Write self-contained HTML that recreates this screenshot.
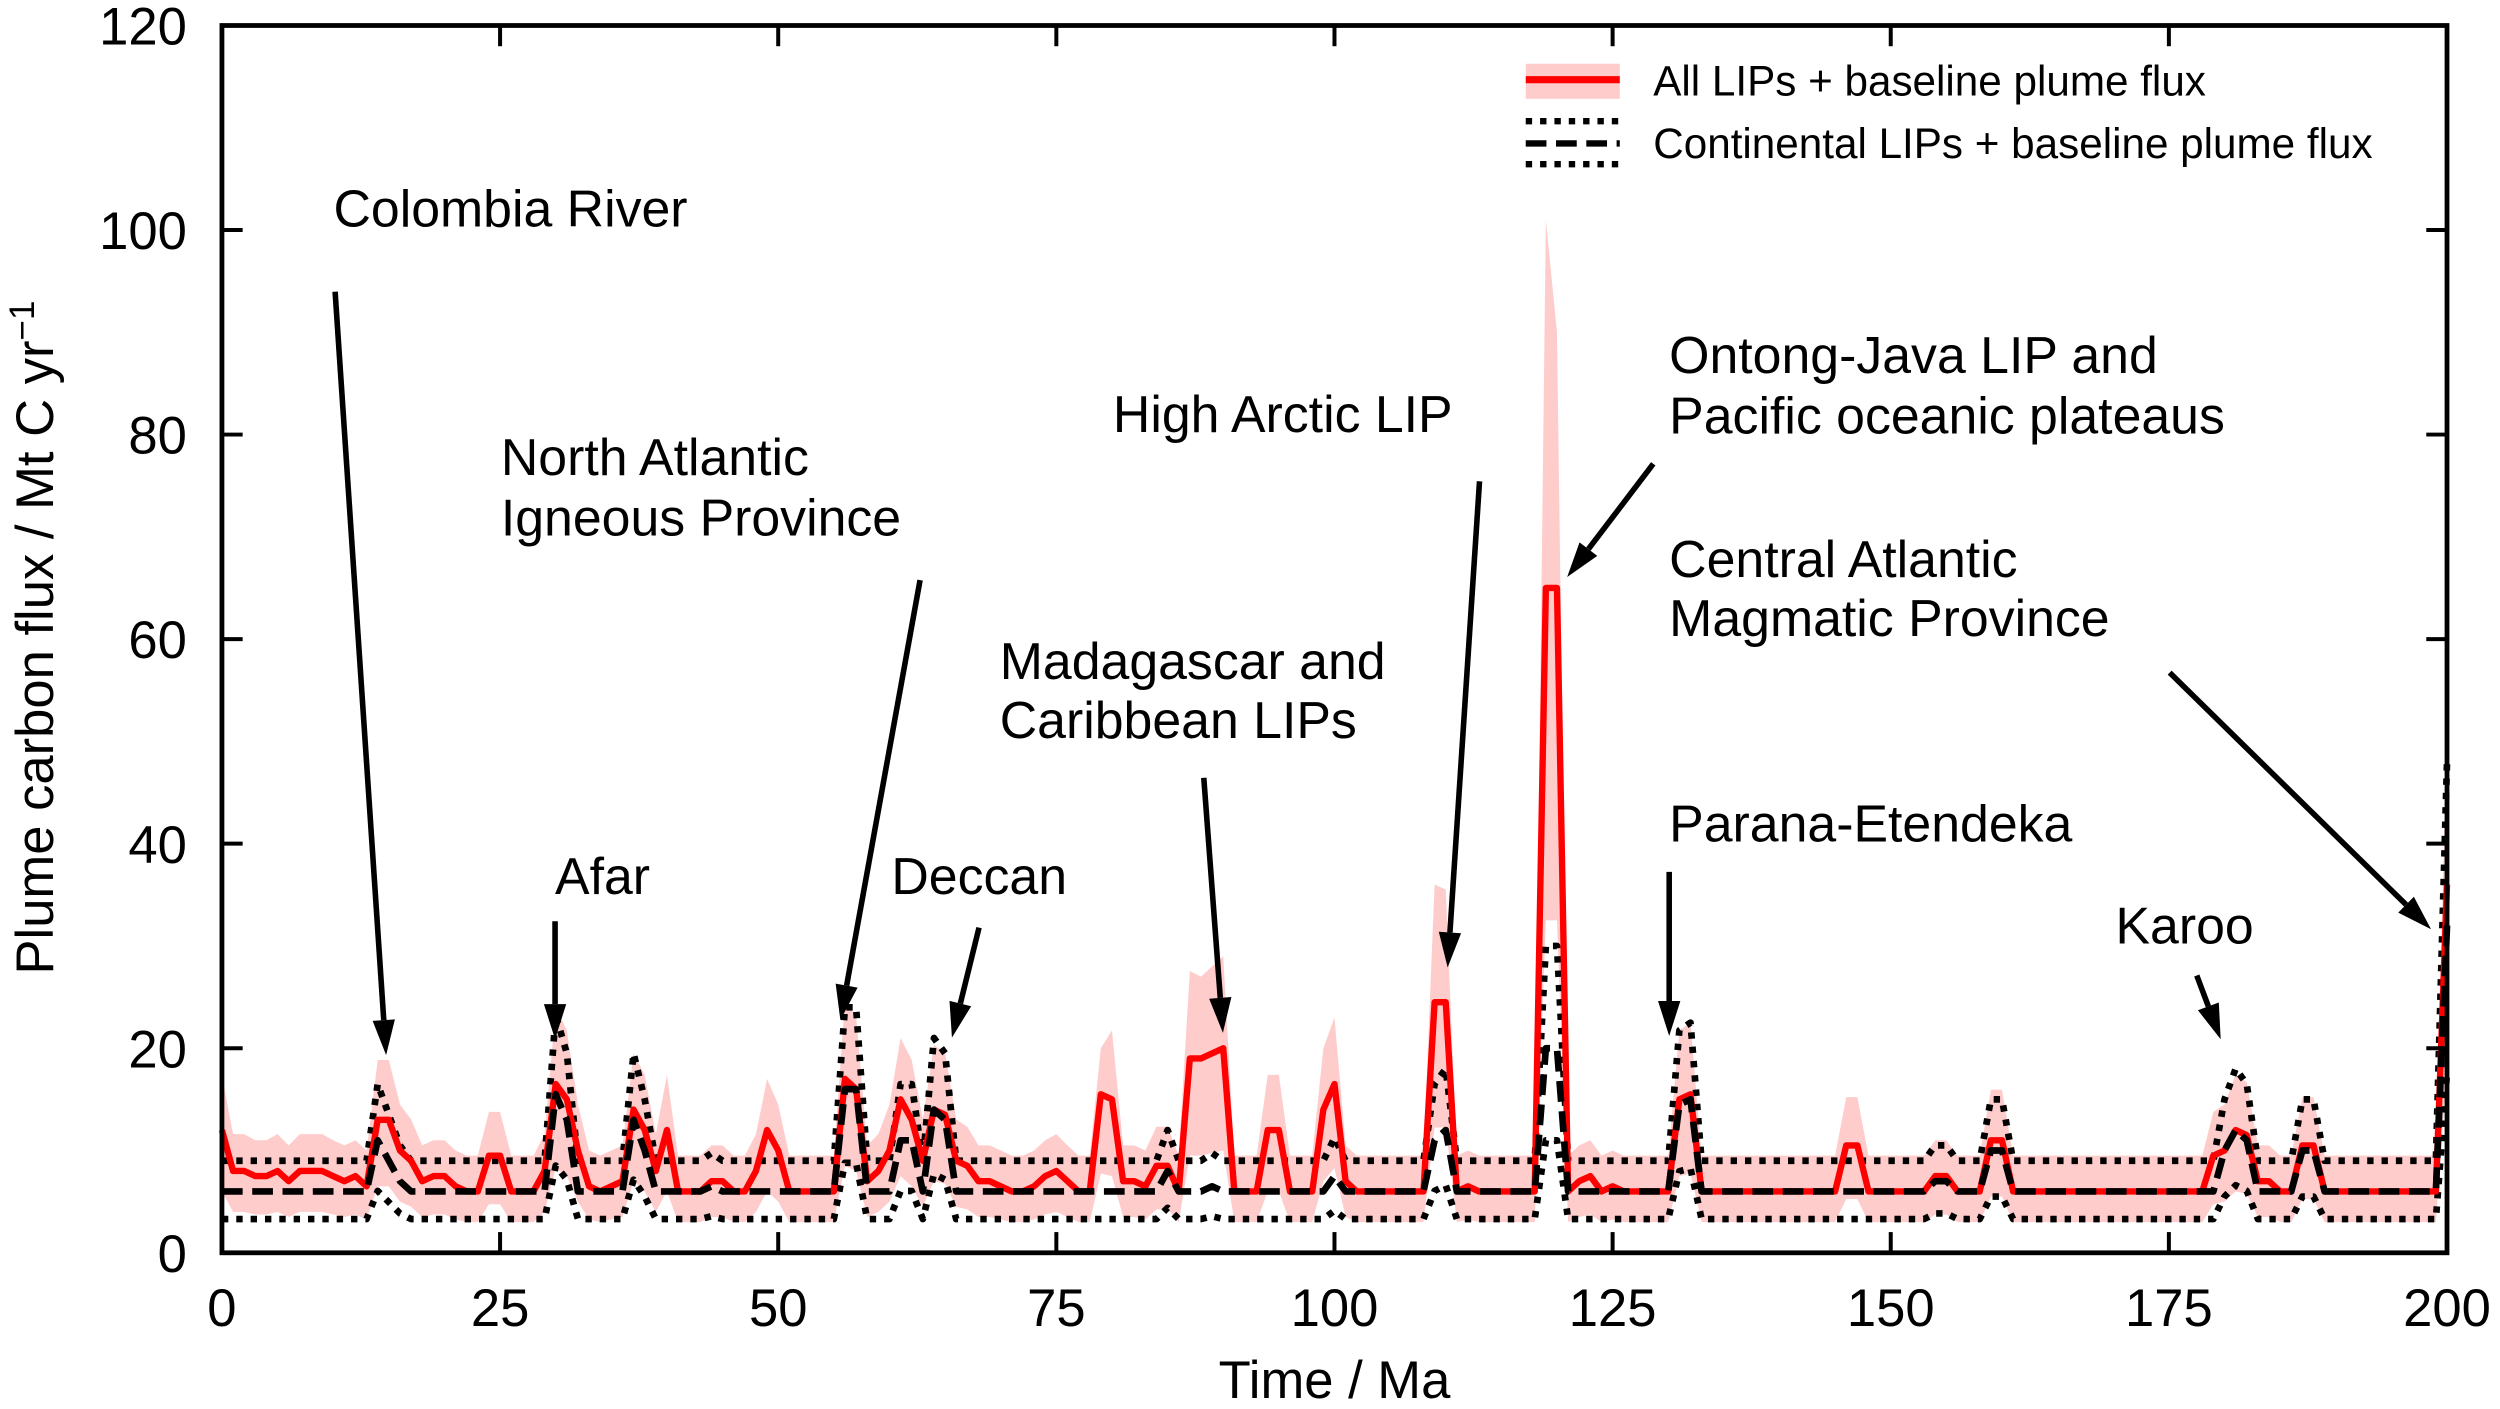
<!DOCTYPE html>
<html><head><meta charset="utf-8"><style>
html,body{margin:0;padding:0;background:#fff;}
svg{display:block;}
text{font-family:"Liberation Sans",sans-serif;fill:#000;}
</style></head><body>
<svg id="s" width="2500" height="1409" viewBox="0 0 1568 884" xmlns="http://www.w3.org/2000/svg">
<g id="data"></g>
<g id="axes" fill="none" stroke="#000" stroke-width="3">
<rect x="139" y="16" width="1396" height="770"/>
</g>
<g id="ticks" stroke="#000" stroke-width="2.5"></g>
<g id="labels" font-size="33"></g>
<g font-size="32.5">
<text x="209" y="142">Colombia River</text>
<text x="348" y="561">Afar</text>
<text x="314" y="298">North Atlantic</text>
<text x="314" y="336">Igneous Province</text>
<text x="559" y="561">Deccan</text>
<text x="627" y="426">Madagascar and</text>
<text x="627" y="463">Caribbean LIPs</text>
<text x="698" y="271">High Arctic LIP</text>
<text x="1047" y="234">Ontong-Java LIP and</text>
<text x="1047" y="272">Pacific oceanic plateaus</text>
<text x="1047" y="362">Central Atlantic</text>
<text x="1047" y="399">Magmatic Province</text>
<text x="1047" y="528">Parana-Etendeka</text>
<text x="1327" y="592">Karoo</text>
</g>
<g id="arrows"></g>
<g>
<rect x="957" y="40" width="59" height="22" fill="#ffcccc"/>
<line x1="957" y1="50" x2="1016" y2="50" stroke="#f00" stroke-width="4.5"/>
<text x="1037" y="60" font-size="26.5">All LIPs + baseline plume flux</text>
<line x1="957" y1="76" x2="1016" y2="76" stroke="#000" stroke-width="4" stroke-dasharray="4 5"/>
<line x1="957" y1="90" x2="1016" y2="90" stroke="#000" stroke-width="4" stroke-dasharray="13 6"/>
<line x1="957" y1="103" x2="1016" y2="103" stroke="#000" stroke-width="4" stroke-dasharray="4 5"/>
<text x="1037" y="99" font-size="26.5">Continental LIPs + baseline plume flux</text>
</g>
<text x="837" y="877" font-size="33" text-anchor="middle">Time / Ma</text>
<text transform="translate(33,400) rotate(-90)" font-size="33" text-anchor="middle">Plume carbon flux / Mt C yr<tspan dy="-12" font-size="22">−1</tspan></text>
</svg>
<script>
var NS="http://www.w3.org/2000/svg";
function X(t){return 139+t*6.98;}
function Y(v){return 786-v*6.417;}
function el(p,tag,a){var e=document.createElementNS(NS,tag);for(var k in a)e.setAttribute(k,a[k]);p.appendChild(e);return e;}
var red={0:12,1:8,2:8,3:7.5,4:7.5,5:8,6:7,7:8,8:8,9:8,10:7.5,11:7,12:7.5,13:6.5,14:13,15:13,16:10,17:9,18:7,19:7.5,20:7.5,21:6.5,24:9.5,25:9.5,29:8,30:16.5,31:15,32:10,33:6.5,35:6.5,36:7,37:14,38:12,39:8,40:12,44:7,45:7,48:8,49:12,50:10,56:17,57:16,58:7,59:8,60:10,61:15,62:13,63:9,64:14,65:13.5,66:9,67:8.5,68:7,69:7,70:6.5,73:6.5,74:7.5,75:8,76:7,79:15.5,80:15,81:7,82:7,83:6.5,84:8.5,85:8.5,87:19,88:19,89:19.5,90:20,94:12,95:12,99:14,100:16.5,101:7,109:24.5,110:24.5,112:6.5,119:65,120:65,122:7,123:7.5,125:6.5,131:15,132:15.5,146:10.5,147:10.5,154:7.5,155:7.5,159:11,160:11,179:9.5,180:10,181:12,182:11.5,183:7,184:7,187:10.5,188:10.5,200:36};
var blk={14:11,15:9,16:7,30:15.5,31:13,37:13,38:10,44:6.5,56:16,57:16,61:11,62:11,64:14,65:13,85:8,89:6.5,100:7.5,109:11,110:12,119:20,120:20,131:14.5,132:15,154:7,155:7,159:10,160:10,180:10,181:12,182:11,187:10,188:10,200:32};
var R=[],B=[];
for(var t=0;t<=200;t++){R.push(red[t]!==undefined?red[t]:6);B.push(blk[t]!==undefined?blk[t]:6);}
var bandUp={89:28,88:27,109:36,100:23,61:21,79:20,49:17,37:19.5,99:20,119:101,120:90};
var d=document.getElementById("data");
var up=[],lo=[];
for(var t=0;t<=200;t++){var u=bandUp[t]||Math.max(R[t]*1.45,R[t]+3.5);up.push(X(t)+","+Y(u));lo.unshift(X(t)+","+Y(Math.max(R[t]*0.5,2.8)));}
el(d,"polygon",{points:up.concat(lo).join(" "),fill:"#ffcccc"});
function pl(arr,f,attrs){var p=[];for(var t=0;t<=200;t++)p.push(X(t)+","+Y(f(arr[t])));attrs.points=p.join(" ");attrs.fill="none";attrs["stroke-linejoin"]="round";el(d,"polyline",attrs);}
pl(B,function(v){return v*1.5;},{stroke:"#000","stroke-width":4.2,"stroke-dasharray":"4 5"});
pl(B,function(v){return v*0.55;},{stroke:"#000","stroke-width":4.2,"stroke-dasharray":"4 5"});
pl(R,function(v){return v;},{stroke:"#f00","stroke-width":4});
pl(B,function(v){return v;},{stroke:"#000","stroke-width":4.2,"stroke-dasharray":"13 6"});
var tk=document.getElementById("ticks"),lb=document.getElementById("labels");
for(var v=0;v<=120;v+=20){var y=Y(v);el(tk,"line",{x1:139,y1:y,x2:152,y2:y});el(tk,"line",{x1:1535,y1:y,x2:1522,y2:y});
var tx=el(lb,"text",{x:117,y:y+12,"text-anchor":"end"});tx.textContent=v;}
for(var t=0;t<=200;t+=25){var x=X(t);el(tk,"line",{x1:x,y1:786,x2:x,y2:773});el(tk,"line",{x1:x,y1:16,x2:x,y2:29});
var tx=el(lb,"text",{x:x,y:832,"text-anchor":"middle"});tx.textContent=t;}
var A=[[210,183,242,662],[348,578,348,652],[577,364,527,640],[614,582,597,651],[755,488,767,648],[928,302,908,607],[1037,291,983,362],[1047,547,1047,650],[1378,612,1393,652],[1361,422,1525,583]];
var ag=document.getElementById("arrows");
A.forEach(function(a){var dx=a[2]-a[0],dy=a[3]-a[1],L=Math.hypot(dx,dy),ux=dx/L,uy=dy/L,h=22,w=7;
var bx=a[2]-ux*h,by=a[3]-uy*h;
el(ag,"line",{x1:a[0],y1:a[1],x2:bx,y2:by,stroke:"#000","stroke-width":3.5});
el(ag,"polygon",{points:a[2]+","+a[3]+" "+(bx-uy*w)+","+(by+ux*w)+" "+(bx+uy*w)+","+(by-ux*w),fill:"#000"});});
</script>
</body></html>
